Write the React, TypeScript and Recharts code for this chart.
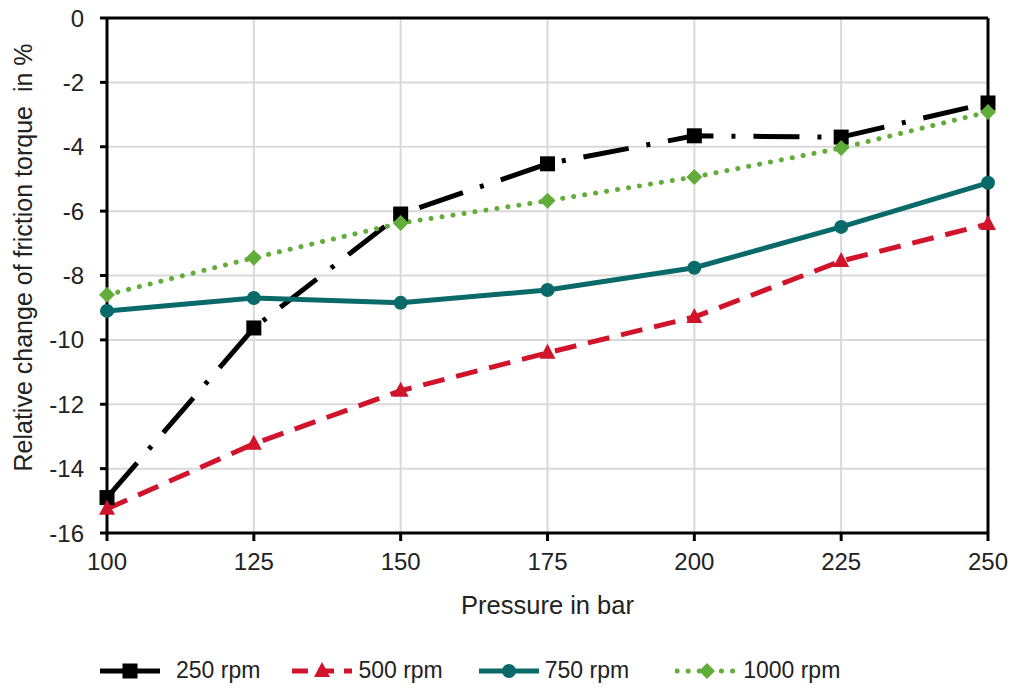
import { LineChart, Line, XAxis, YAxis, CartesianGrid, Legend, ReferenceLine } from 'recharts';

const pressures = [100, 125, 150, 175, 200, 225, 250];
const rpm250 = [-14.9, -9.63, -6.09, -4.53, -3.66, -3.7, -2.64];
const rpm500 = [-15.25, -13.23, -11.58, -10.4, -9.29, -7.55, -6.4];
const rpm750 = [-9.1, -8.7, -8.85, -8.45, -7.76, -6.49, -5.12];
const rpm1000 = [-8.6, -7.45, -6.37, -5.68, -4.94, -4.04, -2.92];
const xTicks = [100, 125, 150, 175, 200, 225, 250];
const yTicks = [-16, -14, -12, -10, -8, -6, -4, -2, 0];

const data = pressures.map((p, i) => ({
    pressure: p,
    r250: rpm250[i],
    r500: rpm500[i],
    r750: rpm750[i],
    r1000: rpm1000[i],
}));

const FONT = '"Liberation Sans", Arial, sans-serif';

const series = [
    { key: 'r250', name: '250 rpm', color: '#000000', dash: '46 18 4 18', shape: 'square' },
    { key: 'r500', name: '500 rpm', color: '#d0142c', dash: '22 12', shape: 'triangle' },
    { key: 'r750', name: '750 rpm', color: '#0a6a6a', dash: undefined, shape: 'circle' },
    { key: 'r1000', name: '1000 rpm', color: '#62ad3a', dash: '0.1 11', shape: 'diamond' },
];

function Marker({ shape, cx, cy, color }: { shape: string; cx: number; cy: number; color: string }) {
    if (shape === 'square') return <rect x={cx - 7.5} y={cy - 7.5} width={15} height={15} fill={color} />;
    if (shape === 'triangle') return <polygon points={`${cx},${cy - 9} ${cx + 8},${cy + 6} ${cx - 8},${cy + 6}`} fill={color} />;
    if (shape === 'circle') return <circle cx={cx} cy={cy} r={7} fill={color} />;
    return <polygon points={`${cx},${cy - 8} ${cx + 8},${cy} ${cx},${cy + 8} ${cx - 8},${cy}`} fill={color} />;
}

function makeDot(shape: string, color: string) {
    return (props: any) => {
        const { cx, cy, index } = props;
        if (cx == null || cy == null) return <g key={index} />;
        return <Marker key={index} shape={shape} cx={cx} cy={cy} color={color} />;
    };
}

const legendGap = [0, 30, 34, 46];

function LegendContent() {
    return (
        <div style={{ display: 'flex', justifyContent: 'flex-start', alignItems: 'center', paddingLeft: 98, fontFamily: FONT, fontSize: 23, color: '#222' }}>
            {series.map((s, i) => (
                <div key={s.key} style={{ display: 'flex', alignItems: 'center', marginLeft: legendGap[i] }}>
                    <svg width={64} height={24} style={{ marginRight: s.key === 'r250' ? 14 : 4 }}>
                        <line x1={2} y1={12} x2={62} y2={12} stroke={s.color} strokeWidth={5}
                            strokeDasharray={s.key === 'r250' ? undefined : s.key === 'r500' ? '16 10' : s.dash}
                            strokeLinecap={s.key === 'r1000' ? 'round' : 'butt'} />
                        <Marker shape={s.shape} cx={32} cy={12} color={s.color} />
                    </svg>
                    <span>{s.name}</span>
                </div>
            ))}
        </div>
    );
}

export default function App() {
    return (
        <div style={{ position: 'absolute', left: 0, top: 0, background: '#fff' }}>
            <LineChart width={1014} height={693} data={data} margin={{ top: 18, right: 26, left: 0, bottom: 6 }}>
                <CartesianGrid stroke="#d9d9d9" strokeWidth={2} />
                <XAxis
                    dataKey="pressure"
                    type="number"
                    domain={[100, 250]}
                    ticks={xTicks}
                    height={124}
                    tickSize={8}
                    tickMargin={12}
                    axisLine={{ stroke: '#000', strokeWidth: 3 }}
                    tickLine={{ stroke: '#000', strokeWidth: 3 }}
                    tick={{ fill: '#222', fontSize: 24, fontFamily: FONT }}
                    label={({ viewBox }: any) => (
                        <text x={viewBox.x + viewBox.width / 2} y={viewBox.y + 81} textAnchor="middle"
                            fill="#222" fontSize={25.5} fontFamily={FONT}>Pressure in bar</text>
                    )}
                />
                <YAxis
                    type="number"
                    domain={[-16, 0]}
                    ticks={yTicks}
                    width={107}
                    tickSize={7}
                    tickMargin={16}
                    axisLine={{ stroke: '#000', strokeWidth: 3 }}
                    tickLine={{ stroke: '#000', strokeWidth: 3 }}
                    tick={{ fill: '#222', fontSize: 24, fontFamily: FONT }}
                    label={({ viewBox }: any) => {
                        const x = 32;
                        const y = viewBox.y + viewBox.height / 2 - 18;
                        return (
                            <text x={x} y={y} transform={`rotate(-90 ${x} ${y})`} textAnchor="middle"
                                fill="#222" fontSize={25} fontFamily={FONT}>{'Relative change of friction torque\u00a0 in %'}</text>
                        );
                    }}
                />
                <ReferenceLine y={0} stroke="#000" strokeWidth={3} />
                <ReferenceLine x={250} stroke="#000" strokeWidth={3} />
                <Legend verticalAlign="bottom" wrapperStyle={{ height: 30 }} content={() => <LegendContent />} />
                {series.map(s => (
                    <Line
                        key={s.key}
                        type="linear"
                        dataKey={s.key}
                        name={s.name}
                        stroke={s.color}
                        strokeWidth={5}
                        strokeDasharray={s.dash}
                        strokeLinecap={s.key === 'r1000' ? 'round' : 'butt'}
                        dot={makeDot(s.shape, s.color)}
                        activeDot={false}
                        isAnimationActive={false}
                    />
                ))}
            </LineChart>
        </div>
    );
}
